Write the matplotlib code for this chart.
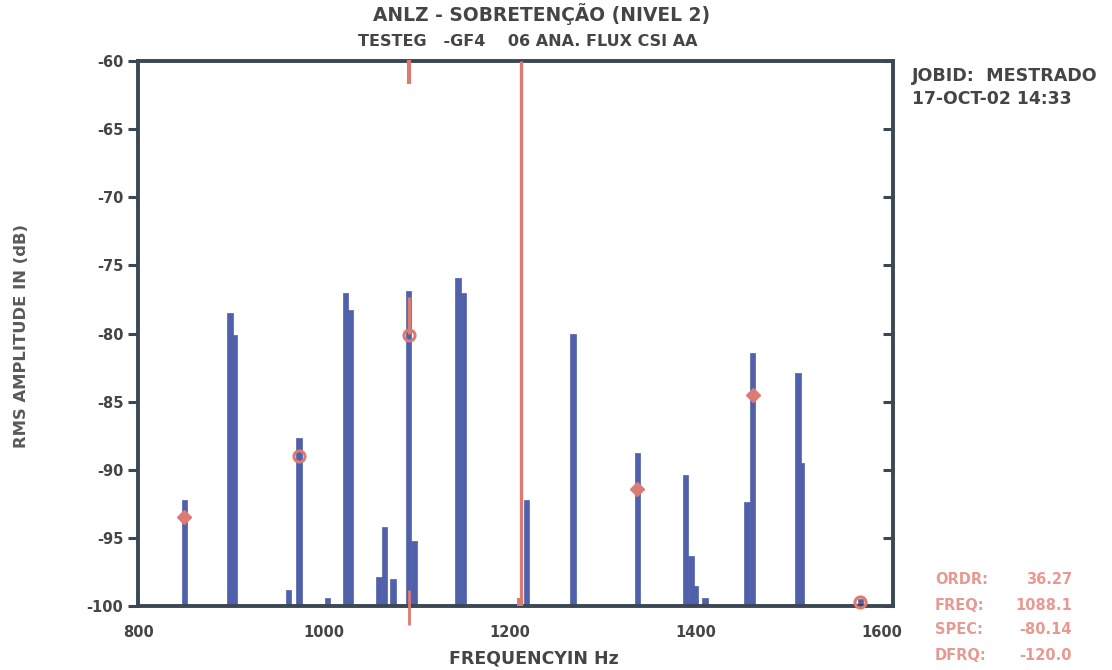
import matplotlib
matplotlib.use("Agg")
import matplotlib.pyplot as plt

# ---- data ----
bar_freqs = [850, 899, 904, 962, 973, 1004, 1023, 1028, 1059, 1065, 1074,
             1091, 1097, 1144, 1150, 1218, 1268, 1337, 1389, 1395, 1399,
             1410, 1455, 1461, 1510, 1513, 1577]
bar_levels = [-92.2, -78.5, -80.1, -98.8, -87.7, -99.4, -77.0, -78.3, -97.9,
              -94.2, -98.0, -76.9, -95.2, -75.9, -77.0, -92.2, -80.0, -88.8,
              -90.4, -96.3, -98.5, -99.4, -92.4, -81.4, -82.9, -89.5, -99.5]

marker_freqs = [850, 973, 1091, 1337, 1461, 1577]
marker_levels = [-93.5, -89.0, -80.14, -91.4, -84.5, -99.7]
marker_styles = ["d", "o", "o", "d", "d", "o"]

cursor_freq = 1091
ref_line_freq = 1212

y_ticks = [-60, -65, -70, -75, -80, -85, -90, -95, -100]
x_ticks = [800, 1000, 1200, 1400, 1600]

title1 = "ANLZ - SOBRETENÇÃO (NIVEL 2)"
title2 = "TESTEG   -GF4    06 ANA. FLUX CSI AA"
job_lines = ["JOBID:  MESTRADO", "17-OCT-02 14:33"]
info_keys = ["ORDR:", "FREQ:", "SPEC:", "DFRQ:"]
info_vals = ["36.27", "1088.1", "-80.14", "-120.0"]

# ---- styling ----
BLUE = "#5160aa"
DARK = "#3b4753"
RED = "#dc7b72"
TXT = "#454545"
PINK = "#e79a92"
FONT = "DejaVu Sans"

fig = plt.figure(figsize=(11.12, 6.70), dpi=100)
ax = fig.add_axes([138 / 1112, 1 - 606 / 670, (893 - 138) / 1112, (606 - 61) / 670])

base = -100
ax.bar(bar_freqs, [v - base for v in bar_levels], bottom=base, width=6,
       color=BLUE, edgecolor=BLUE, linewidth=0.5, zorder=2)

# reference (red) line
ax.vlines(ref_line_freq, -100, -60, color=RED, linewidth=2.4, zorder=3)
ax.bar([ref_line_freq - 2], [0.6], bottom=-100, width=5, color=RED, zorder=3)

# cursor bar overlay (red upper part) and cursor ticks
ax.vlines(cursor_freq, -77.3, -80.0, color=RED, linewidth=2.5, zorder=3)
ax.vlines(cursor_freq, -59.9, -61.7, color=RED, linewidth=3, zorder=4, clip_on=False)
ax.vlines(cursor_freq, -98.8, -101.4, color=RED, linewidth=2, zorder=4, clip_on=False)

for f, v, m in zip(marker_freqs, marker_levels, marker_styles):
    if m == "o":
        ax.plot(f, v, marker="o", ms=8, mfc="none", mec=RED, mew=2.2, zorder=5, clip_on=False)
    else:
        ax.plot(f, v, marker="D", ms=7, mfc=RED, mec=RED, mew=1, zorder=5, clip_on=False)

ax.set_xlim(800, 1612)
ax.set_ylim(-100, -60)
ax.set_yticks(y_ticks)
ax.set_yticklabels([str(t) for t in y_ticks])
ax.set_xticks(x_ticks)
ax.set_xticklabels([str(t) for t in x_ticks])

for s in ax.spines.values():
    s.set_color(DARK)
    s.set_linewidth(2.8)

ax.tick_params(axis="y", which="both", direction="out", length=7, width=2.2,
               color=DARK, right=True, labelright=False, pad=3.5)
ax.tick_params(axis="x", length=0, pad=14)
for lab in ax.get_yticklabels() + ax.get_xticklabels():
    lab.set_fontfamily(FONT)
    lab.set_fontweight("bold")
    lab.set_fontsize(10.5)
    lab.set_color(TXT)
# right-side ticks pointing inward
for t in ax.yaxis.get_major_ticks():
    t.tick2line.set_marker(matplotlib.lines.TICKLEFT)
    t.tick2line.set_markersize(7)

fig.text(534 / 1112, 1 - 659 / 670, "FREQUENCYIN Hz", ha="center", va="center",
         fontfamily=FONT, fontweight="bold", fontsize=12.5, color=TXT)
fig.text(22 / 1112, 1 - 336 / 670, "RMS AMPLITUDE IN (dB)", rotation=90,
         ha="center", va="center", fontfamily=FONT, fontweight="bold",
         fontsize=11.8, color="#5a5a5a")

fig.text(542 / 1112, 1 - 14 / 670, title1, ha="center", va="center",
         fontfamily=FONT, fontweight="bold", fontsize=13.4, color=TXT)
fig.text(528 / 1112, 1 - 42 / 670, title2, ha="center", va="center",
         fontfamily=FONT, fontweight="bold", fontsize=11.5, color=TXT)

fig.text(912 / 1112, 1 - 76 / 670, job_lines[0], ha="left", va="center",
         fontfamily=FONT, fontweight="bold", fontsize=12.6, color=TXT)
fig.text(912 / 1112, 1 - 99 / 670, job_lines[1], ha="left", va="center",
         fontfamily=FONT, fontweight="bold", fontsize=12.4, color=TXT)

for i, (k, v) in enumerate(zip(info_keys, info_vals)):
    y = 1 - (580 + i * 25) / 670
    fig.text(935 / 1112, y, k, ha="left", va="center", fontfamily=FONT,
             fontweight="bold", fontsize=10.5, color=PINK)
    fig.text(1072 / 1112, y, v, ha="right", va="center", fontfamily=FONT,
             fontweight="bold", fontsize=10.5, color=PINK)

fig.savefig("out.png", dpi=100)
